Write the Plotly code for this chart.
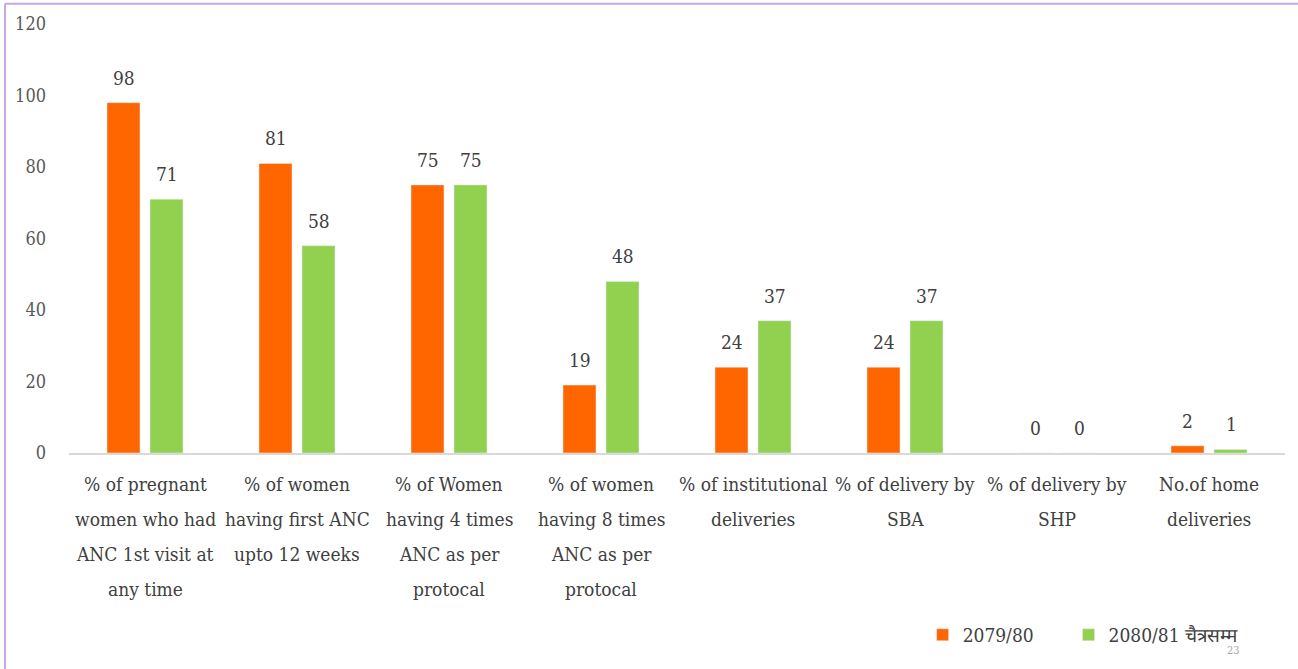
"ANC and delivery indicators chart"

import plotly.graph_objects as go

categories = [
    "% of pregnant<br>women who had<br>ANC 1st visit at<br>any time",
    "% of women<br>having first ANC<br>upto 12 weeks",
    "% of Women<br>having 4 times<br>ANC as per<br>protocal",
    "% of women<br>having 8 times<br>ANC as per<br>protocal",
    "% of institutional<br>deliveries",
    "% of delivery by<br>SBA",
    "% of delivery by<br>SHP",
    "No.of home<br>deliveries",
]
values_2079 = [98, 81, 75, 19, 24, 24, 0, 2]
values_2080 = [71, 58, 75, 48, 37, 37, 0, 1]
series_names = ["2079/80", "2080/81 चैत्रसम्म"]
y_ticks = [0, 20, 40, 60, 80, 100, 120]

FONT = "DejaVu Serif Condensed, DejaVu Serif"
TEXT_COLOR = "#404040"
ORANGE = "#FF6600"
GREEN = "#92D050"

fig = go.Figure()
fig.add_trace(go.Bar(x=categories, y=values_2079, name=series_names[0],
                     marker_color=ORANGE, legend="legend"))
fig.add_trace(go.Bar(x=categories, y=values_2080, name=series_names[1],
                     marker_color=GREEN, legend="legend2"))

# value labels above each bar
for vals, shift in [(values_2079, -21.5), (values_2080, 22)]:
    for cat, v in zip(categories, vals):
        fig.add_annotation(x=cat, y=v, text=str(v), showarrow=False,
                           xshift=shift, yshift=25, yanchor="middle",
                           font=dict(family=FONT, size=19, color=TEXT_COLOR))

# category labels, one line at a time for the wider line spacing
for cat in categories:
    for i, line in enumerate(cat.split("<br>")):
        fig.add_annotation(x=cat, y=0, text=line, showarrow=False,
                           yshift=-31 - 35 * i, yanchor="middle",
                           font=dict(family=FONT, size=19, color=TEXT_COLOR))

# slide number
fig.add_annotation(x=0.965, y=-0.48, xref="paper", yref="paper", text="23",
                   showarrow=False, font=dict(family=FONT, size=11, color="#a6a6a6"))

# outer frame (top and left edges visible)
fig.add_shape(type="line", xref="paper", yref="paper", x0=-0.0526, x1=1.02,
              y0=1.047, y1=1.047, line=dict(color="#c9a7e0", width=2))
fig.add_shape(type="line", xref="paper", yref="paper", x0=-0.0526, x1=-0.0526,
              y0=1.047, y1=-0.52, line=dict(color="#c9a7e0", width=2))

legend_style = dict(orientation="h", y=-0.424, xanchor="left", yanchor="middle",
                    font=dict(family=FONT, size=19, color=TEXT_COLOR), itemwidth=30)

fig.update_layout(
    width=1298, height=669,
    margin=dict(l=69, r=13, t=24, b=216, autoexpand=False),
    paper_bgcolor="white", plot_bgcolor="white",
    barmode="group", bargap=0.434, bargroupgap=0.233,
    font=dict(family=FONT, size=19, color=TEXT_COLOR),
    legend=dict(x=0.702, **legend_style),
    legend2=dict(x=0.822, **legend_style),
    showlegend=True,
)
fig.update_xaxes(showline=True, linecolor="#d9d9d9", linewidth=2,
                 ticks="", showticklabels=False)
fig.update_yaxes(range=[0, 120], tickvals=y_ticks, showgrid=False, zeroline=False,
                 showline=False, ticklabelstandoff=22,
                 tickfont=dict(family=FONT, size=18, color="#595959"))

fig.write_html("out.html", config={"displayModeBar": False},
               post_script="document.body.style.margin='0px';")
